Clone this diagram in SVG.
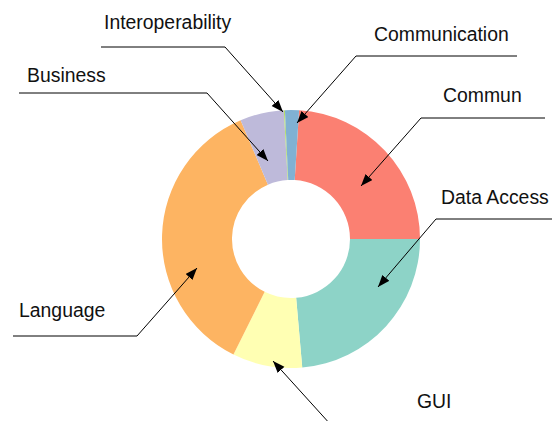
<svg xmlns="http://www.w3.org/2000/svg" width="552" height="421" viewBox="0 0 552 421">
<style>
.lbl{font-family:"Liberation Sans",Helvetica,Arial,sans-serif;font-size:19.4px;fill:#111}
.ld{fill:none;stroke:#000;stroke-width:1}
</style>
<defs>
<marker id="ah" markerUnits="userSpaceOnUse" markerWidth="13" markerHeight="10" refX="12" refY="4.5" orient="auto">
<path d="M0,0 L12,4.5 L0,9 Z" fill="#000"/>
</marker>
</defs>
<rect width="552" height="421" fill="#fff"/>
<g id="slices">
<g id="commun"><path fill="#fb8072" d="M299.10,110.25 A129,129 0 0 1 420,239 L350,239 A59,59 0 0 0 294.70,180.12 Z"/></g>
<g id="data-access"><path fill="#8dd3c7" d="M420,239 A129,129 0 0 1 302.24,367.51 L296.14,297.78 A59,59 0 0 0 350,239 Z"/></g>
<g id="gui"><path fill="#ffffb3" d="M302.24,367.51 A129,129 0 0 1 233.44,354.45 L264.67,291.80 A59,59 0 0 0 296.14,297.78 Z"/></g>
<g id="language"><path fill="#fdb462" d="M233.44,354.45 A129,129 0 0 1 240.60,120.26 L267.95,184.69 A59,59 0 0 0 264.67,291.80 Z"/></g>
<g id="business"><path fill="#bebada" d="M240.60,120.26 A129,129 0 0 1 283.80,110.20 L287.71,180.09 A59,59 0 0 0 267.95,184.69 Z"/></g>
<g id="interoperability"><path fill="#b3de69" d="M283.80,110.20 A129,129 0 0 1 284.92,110.14 L288.22,180.07 A59,59 0 0 0 287.71,180.09 Z"/></g>
<g id="communication"><path fill="#80b1d3" d="M284.92,110.14 A129,129 0 0 1 299.10,110.25 L294.70,180.12 A59,59 0 0 0 288.22,180.07 Z"/></g>
</g>
<g id="connectors">
<path class="ld" marker-end="url(#ah)" d="M101,47 L225,47 L283,112"/>
<path class="ld" marker-end="url(#ah)" d="M19,93 L207,93 L268,161"/>
<path class="ld" marker-end="url(#ah)" d="M517,56 L356,56 L297,123"/>
<path class="ld" marker-end="url(#ah)" d="M545,118 L421,118 L361,186"/>
<path class="ld" marker-end="url(#ah)" d="M560,219 L436,219 L378,287"/>
<path class="ld" marker-end="url(#ah)" d="M331,425 L273,361"/>
<path class="ld" marker-end="url(#ah)" d="M13,336 L137,336 L197,268"/>
</g>
<g id="labels">
<text class="lbl" x="104" y="29">Interoperability</text>
<text class="lbl" x="27" y="82">Business</text>
<text class="lbl" x="374" y="41">Communication</text>
<text class="lbl" x="443" y="102">Commun</text>
<text class="lbl" x="441" y="204">Data Access</text>
<text class="lbl" x="417" y="408">GUI</text>
<text class="lbl" x="19" y="317">Language</text>
</g>
</svg>
